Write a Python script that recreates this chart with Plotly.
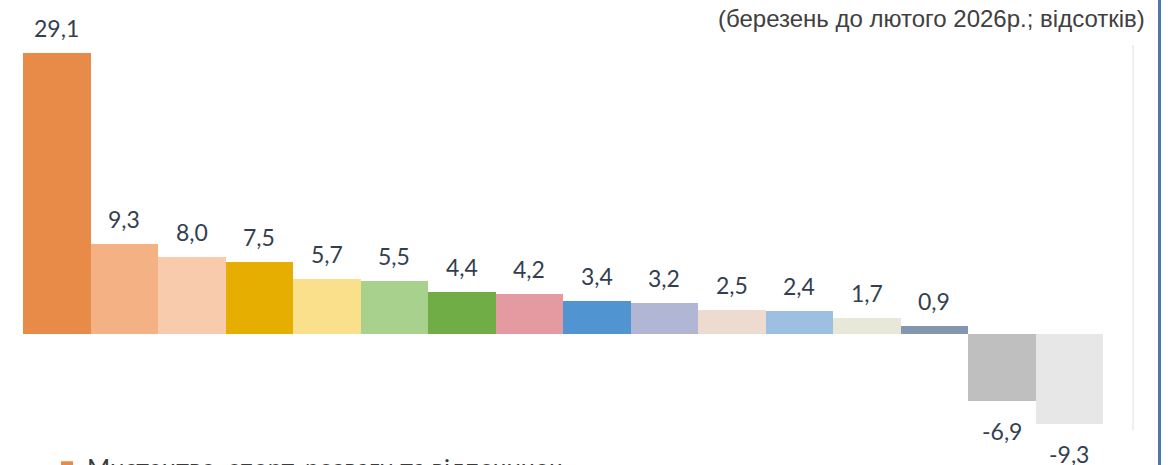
import plotly.graph_objects as go

categories = [f"cat{i+1}" for i in range(16)]
first_name = "Мистецтво, спорт, розваги та відпочинок"
values = [29.1, 9.3, 8.0, 7.5, 5.7, 5.5, 4.4, 4.2, 3.4, 3.2, 2.5, 2.4, 1.7, 0.9, -6.9, -9.3]
colors = ["#E88B48", "#F4B183", "#F8CBAD", "#E6AE00", "#FAE08A", "#A9D18E", "#70AD47",
          "#E59AA2", "#5094D2", "#B2B6D5", "#EEDBCF", "#9DBFE1", "#E8E8D8", "#8497B0",
          "#BFBFBF", "#E7E7E7"]
subtitle = "(березень до лютого 2026р.; відсотків)"

W, H = 1170, 465
L, R, T = 23, 67, 49
yr = [-10.0, 29.5]
ppu = 9.66
plot_h = (yr[1] - yr[0]) * ppu
B = H - T - plot_h

fig = go.Figure()
for i, (c, v, col) in enumerate(zip(categories, values, colors)):
    fig.add_trace(go.Bar(
        x=[c], y=[v], name=first_name if i == 0 else c,
        marker=dict(color=col, line=dict(width=0)),
        width=1.0, showlegend=(i == 0), hoverinfo="y",
    ))

label_font = dict(family="Lato, Open Sans, sans-serif", size=23, color="#333F50")
annotations = []
for c, v in zip(categories, values):
    annotations.append(dict(
        x=c, y=v, xref="x", yref="y", text=f"{v:.1f}".replace(".", ","),
        showarrow=False, xanchor="center", yanchor="middle",
        yshift=25 if v >= 0 else -30, font=label_font,
    ))
annotations.append(dict(
    x=1, y=1, xref="paper", yref="paper", text=subtitle, showarrow=False,
    xanchor="right", yanchor="middle", xshift=44, yshift=31,
    font=dict(family="Liberation Sans, Arial, sans-serif", size=24, color="#404040"),
))

def px_to_xpaper(px):
    return (px - L) / (W - L - R)

def py_to_ypaper(py):
    return (H - B - py) / plot_h

shapes = [
    dict(type="line", xref="paper", yref="paper",
         x0=px_to_xpaper(1133), x1=px_to_xpaper(1133),
         y0=py_to_ypaper(45), y1=py_to_ypaper(430),
         line=dict(color="#EFEFEF", width=2)),
    dict(type="line", xref="paper", yref="paper",
         x0=px_to_xpaper(1159.5), x1=px_to_xpaper(1159.5),
         y0=py_to_ypaper(0), y1=py_to_ypaper(465),
         line=dict(color="#4F77A8", width=3)),
]

fig.update_layout(
    width=W, height=H,
    margin=dict(l=L, r=R, t=T, b=B, autoexpand=False),
    paper_bgcolor="white", plot_bgcolor="white",
    barmode="relative", bargap=0,
    xaxis=dict(visible=False, range=[-0.5, 15.5], fixedrange=True),
    yaxis=dict(visible=False, range=yr, fixedrange=True, zeroline=False),
    showlegend=True,
    legend=dict(orientation="h", x=px_to_xpaper(47), xanchor="left",
                y=py_to_ypaper(444), yanchor="top",
                font=dict(family="Lato, Open Sans, sans-serif", size=25, color="#3A3A3A"),
                bgcolor="rgba(0,0,0,0)"),
    annotations=annotations, shapes=shapes,
)

fig.write_html("out.html", config={"displayModeBar": False},
               post_script="document.body.style.margin='0';document.body.style.overflow='hidden';")
